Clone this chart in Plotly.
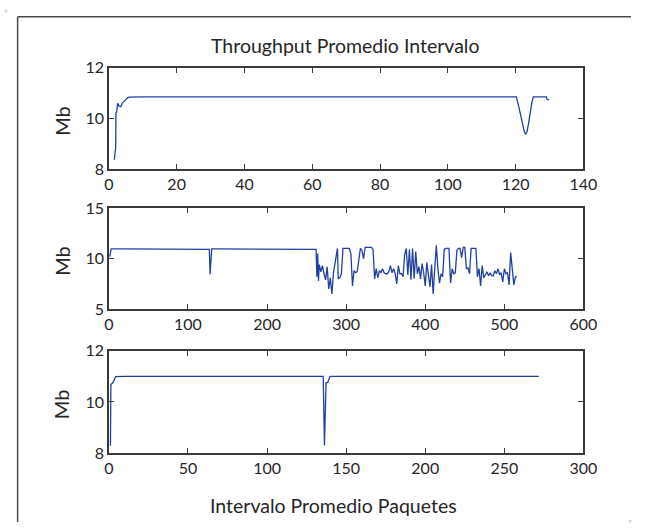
import plotly.graph_objects as go

# ---------------- data ----------------
top_x = [1.6, 2.0, 2.1, 2.3, 2.6, 3.0, 3.5, 4.0, 4.5, 5.0, 5.5, 6.0, 7, 10, 20, 30, 40, 50, 60,
         70, 80, 90, 100, 110, 120.2, 121.0, 121.5, 122.0, 122.5, 122.9, 123.3, 123.8, 124.3,
         124.8, 125.2, 126, 127, 128, 129.1, 129.3, 129.9]
top_y = [8.38, 8.83, 10.22, 10.27, 10.60, 10.50, 10.47, 10.62, 10.68, 10.76, 10.82, 10.85, 10.86,
         10.86, 10.86, 10.86, 10.86, 10.86, 10.86, 10.86, 10.86, 10.86, 10.86, 10.86, 10.86,
         10.42, 10.08, 9.78, 9.52, 9.38, 9.45, 9.80, 10.25, 10.65, 10.86, 10.86, 10.86, 10.86,
         10.86, 10.75, 10.75]

mid_x = [1, 2, 3, 20, 40, 60, 80, 100, 120, 126, 127, 128, 129, 130, 140, 160, 180, 200, 220,
         240, 260, 262, 263, 264, 265, 266, 268, 270, 272, 274, 276, 278, 280, 282, 284, 286,
         288, 289, 290, 292, 294, 296, 300, 304, 306, 308, 310, 312, 314, 316, 318, 320, 322,
         324, 328, 332, 334, 336, 338, 340, 342, 344, 346, 348, 350, 352, 354, 356, 358, 360,
         362, 364, 366, 368, 370, 372, 374, 376, 378, 380, 382, 384, 386, 388, 390, 392, 394,
         396, 398, 400, 402, 404, 406, 408, 410, 412, 414, 416, 418, 420, 422, 424, 426, 428,
         430, 432, 434, 436, 438, 440, 442, 444, 446, 448, 450, 452, 454, 456, 458, 460, 462,
         464, 466, 468, 470, 472, 474, 476, 478, 480, 482, 484, 486, 488, 490, 492, 494, 496,
         498, 500, 502, 504, 506, 508, 510, 512, 514, 516]
mid_y = [10.2, 10.8, 10.95, 10.95, 10.95, 10.95, 10.95, 10.95, 10.95, 10.95, 10.9, 8.45, 10.7,
         10.95, 10.95, 10.95, 10.95, 10.95, 10.95, 10.95, 10.95, 10.9, 8.2, 10.5, 7.8, 9.4, 8.7,
         9.3, 8.5, 7.9, 9.2, 7.0, 8.1, 6.5, 8.6, 9.5, 10.6, 11.0, 8.0, 8.1, 8.5, 11.0, 11.0,
         11.0, 10.5, 7.3, 8.8, 8.6, 8.7, 10.2, 11.0, 10.8, 10.0, 11.1, 11.1, 11.1, 10.9, 8.0,
         9.0, 8.1, 8.8, 8.6, 9.0, 8.6, 8.5, 8.5, 8.7, 9.3, 8.6, 9.0, 8.5, 7.5, 9.3, 8.5, 8.5,
         8.2, 10.4, 11.0, 8.4, 10.9, 7.9, 11.0, 8.0, 10.7, 8.5, 9.2, 8.0, 9.5, 8.6, 7.3, 9.6,
         8.1, 7.2, 9.4, 6.5, 9.0, 11.3, 9.0, 7.6, 8.5, 8.2, 10.9, 11.0, 11.0, 11.0, 7.6, 9.0,
         8.5, 8.6, 10.8, 11.0, 11.0, 10.1, 11.1, 11.1, 9.0, 9.1, 8.5, 11.0, 11.0, 11.0, 11.0,
         8.2, 9.0, 7.3, 9.3, 8.1, 8.5, 8.7, 8.3, 8.6, 8.3, 8.3, 8.8, 8.5, 9.0, 8.4, 8.6, 7.7,
         9.0, 8.5, 8.6, 7.4, 10.6, 8.5, 7.4, 8.2, 8.2]

bot_x = [1.0, 1.3, 2.5, 3.0, 4.3, 10, 30, 50, 70, 90, 110, 130, 135.5, 136.3, 137.3, 138.3,
         138.8, 139.8, 160, 180, 200, 220, 240, 260, 271.8]
bot_y = [8.29, 10.68, 10.75, 10.80, 10.99, 11.0, 11.0, 11.0, 11.0, 11.0, 11.0, 11.0, 11.0, 8.3,
         10.75, 10.75, 10.85, 11.0, 11.0, 11.0, 11.0, 11.0, 11.0, 11.0, 11.0]

title_text = "Throughput Promedio Intervalo"
xlabel_text = "Intervalo Promedio Paquetes"
ylabel_text = "Mb"

# ---------------- figure ----------------
W, H = 645, 531
LINE = "#2140a0"
AXC = "#3a3a3a"
TXT = "#262626"
FONT = "Lato"

def px(x):
    return x / W

def py(y):
    return 1 - y / H

fig = go.Figure()
for xs, ys, xa, ya in [(top_x, top_y, "x", "y"), (mid_x, mid_y, "x2", "y2"), (bot_x, bot_y, "x3", "y3")]:
    fig.add_trace(go.Scatter(x=xs, y=ys, mode="lines", line=dict(color=LINE, width=1.3),
                             xaxis=xa, yaxis=ya, showlegend=False, hoverinfo="skip"))

common = dict(showline=True, linecolor=AXC, linewidth=1.5, mirror="ticks", ticks="inside",
              ticklen=5, tickwidth=1, tickcolor=AXC, showgrid=False, zeroline=False,
              tickfont=dict(family=FONT, size=16, color=TXT))

xdom = [px(107), px(596)]
doms = [(60, 165.3), (205.3, 310.3), (353.3, 459.7)]

fig.update_layout(
    width=W, height=H, autosize=False, margin=dict(l=0, r=0, t=0, b=0, pad=0),
    paper_bgcolor="white", plot_bgcolor="white",
    xaxis=dict(domain=xdom, anchor="y", range=[0, 140], dtick=20, tick0=0, **common),
    yaxis=dict(domain=[py(doms[0][1]), py(doms[0][0])], anchor="x", range=[8, 12], dtick=2, tick0=8, **common),
    xaxis2=dict(domain=xdom, anchor="y2", range=[0, 600], dtick=100, tick0=0, **common),
    yaxis2=dict(domain=[py(doms[1][1]), py(doms[1][0])], anchor="x2", range=[5, 15], dtick=5, tick0=5, **common),
    xaxis3=dict(domain=xdom, anchor="y3", range=[0, 300], dtick=50, tick0=0, **common),
    yaxis3=dict(domain=[py(doms[2][1]), py(doms[2][0])], anchor="x3", range=[8, 12], dtick=2, tick0=8, **common),
)

annos = [
    dict(text=title_text, x=px(351), y=py(37), font=dict(family=FONT, size=19.5, color=TXT)),
    dict(text=xlabel_text, x=px(338), y=py(514), font=dict(family=FONT, size=19.5, color=TXT)),
]
for top, bot in doms:
    annos.append(dict(text=ylabel_text, x=px(58), y=py((top + bot) / 2 + 2), textangle=-90,
                      font=dict(family=FONT, size=20, color=TXT)))
for a in annos:
    a.update(xref="paper", yref="paper", showarrow=False, xanchor="center", yanchor="middle")
fig.update_layout(annotations=annos)

# outer frame (left and top edges only; the rest lies outside the picture)
frame = dict(color="#4a4a4a", width=1.5)
fig.add_shape(type="line", xref="paper", yref="paper", x0=px(13), x1=px(13), y0=0, y1=py(7), line=frame)
fig.add_shape(type="line", xref="paper", yref="paper", x0=px(13), x1=1, y0=py(7), y1=py(7), line=frame)
# faint corner marks so the full canvas is kept when the picture is taken
corner = dict(color="#d8d8d8", width=1)
fig.add_shape(type="rect", xref="paper", yref="paper", x0=0, x1=px(2), y0=py(2), y1=1, line=corner, fillcolor="#d8d8d8")
fig.add_shape(type="rect", xref="paper", yref="paper", x0=px(643), x1=1, y0=0, y1=py(529), line=corner, fillcolor="#d8d8d8")

post = (
    "document.documentElement.style.margin='0';"
    "document.documentElement.style.overflow='hidden';"
    "document.body.style.margin='0';"
    "document.body.style.overflow='hidden';"
)

fig.write_html(
    "out.html",
    config={"displayModeBar": False, "responsive": False, "staticPlot": True},
    default_width="645px",
    default_height="531px",
    post_script=post,
)
